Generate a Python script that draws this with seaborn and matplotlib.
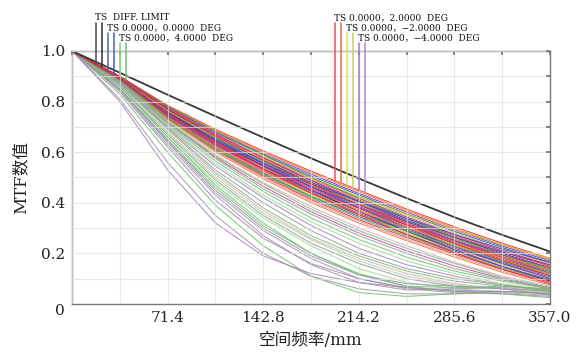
import numpy as np
import pandas as pd
import matplotlib
matplotlib.use("Agg")
import matplotlib.pyplot as plt
import seaborn as sns

# spatial frequency samples (lp/mm) and the diffraction limit
freq = [0, 35.7, 71.4, 107.1, 142.8, 178.5, 214.2, 249.9, 285.6, 321.3, 357.0]
diff_limit = [1.0, 0.914, 0.827, 0.742, 0.658, 0.576, 0.496, 0.418, 0.343, 0.273, 0.207]

# MTF curves, grouped by line colour
red_fields = [
    [1, .900, .785, .690, .605, .525, .450, .375, .305, .240, .180],
    [1, .896, .769, .663, .572, .488, .411, .338, .269, .206, .149],
    [1, .892, .755, .641, .545, .456, .379, .306, .239, .177, .122],
    [1, .887, .736, .609, .506, .413, .333, .263, .197, .137, .086],
    [1, .893, .755, .636, .534, .438, .353, .275, .203, .137, .080],
    [1, .897, .771, .663, .567, .475, .392, .313, .239, .171, .112],
]
orange_fields = [
    [1, .899, .782, .686, .600, .519, .444, .369, .299, .234, .175],
    [1, .891, .752, .636, .539, .450, .372, .300, .233, .171, .117],
    [1, .885, .730, .600, .495, .400, .320, .250, .185, .125, .075],
    [1, .887, .738, .618, .523, .438, .366, .300, .239, .183, .133],
]
purple_fields = [
    [1, .899, .780, .681, .594, .513, .437, .363, .293, .229, .170],
    [1, .893, .758, .645, .550, .463, .385, .313, .245, .183, .128],
    [1, .888, .741, .618, .517, .425, .346, .275, .209, .148, .096],
    [1, .890, .749, .636, .545, .463, .392, .325, .263, .206, .154],
]
blue_fields = [
    [1, .898, .777, .677, .589, .506, .431, .356, .287, .223, .164],
    [1, .890, .749, .632, .534, .444, .366, .294, .227, .165, .112],
    [1, .896, .766, .654, .556, .463, .379, .300, .227, .160, .101],
    [1, .891, .755, .645, .556, .475, .405, .338, .275, .217, .164],
]
olive_fields = [
    [1, .897, .774, .672, .583, .500, .424, .350, .281, .217, .159],
    [1, .889, .744, .623, .523, .431, .353, .281, .215, .154, .101],
    [1, .893, .763, .659, .572, .494, .424, .356, .293, .234, .180],
]
magenta_fields = [
    [1, .896, .771, .668, .578, .494, .418, .344, .275, .211, .154],
    [1, .890, .747, .627, .528, .438, .359, .288, .221, .160, .107],
    [1, .899, .777, .672, .578, .488, .405, .325, .251, .183, .122],
    [1, .888, .744, .627, .534, .450, .379, .313, .251, .194, .143],
]
navy_fields = [
    [1, .895, .766, .659, .567, .481, .405, .331, .263, .200, .143],
    [1, .894, .760, .645, .545, .450, .366, .288, .215, .148, .091],
]
green_fields = [
    [1, .894, .763, .654, .561, .475, .398, .325, .257, .194, .138],
    [1, .887, .738, .614, .512, .419, .340, .269, .203, .142, .091],
    [1, .900, .782, .681, .589, .500, .418, .338, .263, .194, .133],
    [1, .885, .733, .609, .512, .425, .353, .288, .227, .171, .122],
]
brown_fields = [
    [1, .893, .760, .650, .556, .469, .392, .319, .251, .188, .133],
]
pink_fields = [
    [1, .886, .733, .605, .501, .406, .327, .256, .191, .131, .080],
]

# the lower, poorer fields
green_low = [
    [1, .83, .60, .39, .23, .11, .045, .030, .040, .050, .040],
    [1, .85, .65, .46, .31, .20, .12, .070, .050, .040, .025],
    [1, .87, .69, .52, .38, .27, .19, .130, .090, .070, .060],
    [1, .88, .71, .565, .445, .34, .255, .185, .130, .090, .060],
    [1, .882, .72, .585, .475, .375, .29, .220, .160, .105, .065],
    [1, .86, .66, .47, .32, .20, .115, .070, .065, .070, .055],
]
lightgreen_low = [
    [1, .86, .66, .48, .34, .23, .14, .085, .060, .050, .035],
    [1, .875, .705, .555, .43, .325, .24, .170, .120, .080, .055],
    [1, .865, .675, .50, .36, .255, .17, .110, .075, .060, .045],
]
gray_low = [
    [1, .81, .56, .35, .20, .11, .06, .040, .040, .045, .035],
    [1, .85, .64, .44, .29, .18, .10, .060, .045, .040, .030],
    [1, .86, .67, .49, .35, .24, .16, .100, .070, .060, .050],
    [1, .87, .695, .53, .40, .29, .20, .140, .100, .075, .055],
    [1, .88, .715, .575, .455, .355, .27, .200, .140, .095, .065],
    [1, .845, .63, .43, .27, .155, .085, .055, .060, .065, .050],
]
lilac_low = [
    [1, .80, .53, .32, .19, .12, .085, .065, .055, .048, .042],
    [1, .84, .62, .41, .26, .16, .10, .065, .050, .050, .045],
    [1, .875, .70, .545, .42, .31, .22, .155, .110, .075, .050],
    [1, .85, .645, .45, .30, .19, .115, .080, .070, .060, .035],
]
pink_low = [
    [1, .865, .68, .51, .37, .26, .18, .120, .080, .060, .045],
    [1, .883, .725, .59, .48, .385, .30, .230, .165, .110, .070],
]
magenta_low = [
    [1, .88, .72, .58, .465, .365, .28, .210, .150, .100, .060],
]

palette = {
    "green_low": "#72c272", "lightgreen_low": "#9fdc95", "gray_low": "#9c9c9c",
    "lilac_low": "#a985bd", "pink_low": "#e7a3c6", "magenta_low": "#c2549f",
    "red": "#e3302f", "orange": "#f07b2a", "purple": "#7a3ca6", "blue": "#3b52c2",
    "olive": "#c7c23c", "magenta": "#c42f8e", "navy": "#2c3190", "green": "#4aae4f",
    "brown": "#a0522d", "pink": "#f08fb2",
}

lower_groups = [
    ("green_low", green_low), ("gray_low", gray_low), ("lilac_low", lilac_low),
    ("lightgreen_low", lightgreen_low), ("pink_low", pink_low), ("magenta_low", magenta_low),
]
upper_groups = [
    ("red", red_fields), ("blue", blue_fields), ("olive", olive_fields),
    ("purple", purple_fields), ("orange", orange_fields), ("green", green_fields),
    ("magenta", magenta_fields), ("navy", navy_fields), ("brown", brown_fields),
    ("pink", pink_fields),
]


def round_robin(groups):
    # mix the colours so no single group ends up on top
    out = []
    depth = max(len(c) for _, c in groups)
    for k in range(depth):
        for name, curves in groups:
            if k < len(curves):
                out.append((f"{name}_{k}", palette[name], curves[k]))
    return out


rows = []
curve_colors = {}
for cid, col, vals in round_robin(lower_groups) + round_robin(upper_groups):
    curve_colors[cid] = col
    for f, v in zip(freq, vals):
        rows.append({"curve": cid, "freq": f, "mtf": v})
df = pd.DataFrame(rows)

# legend entries: label and the colours of its two lines
legend_left = [
    ("TS  DIFF. LIMIT", ["#4a4a4a", "#2e2e2e"]),
    ("TS 0.0000，0.0000  DEG", ["#5464b4", "#4a5cc0"]),
    ("TS 0.0000，4.0000  DEG", ["#86c986", "#74bd74"]),
]
legend_right = [
    ("TS 0.0000，2.0000  DEG", ["#e4546a", "#e46a52"]),
    ("TS 0.0000，\u22122.0000  DEG", ["#dcdc66", "#c8d256"]),
    ("TS 0.0000，\u22124.0000  DEG", ["#9a78b6", "#b486c4"]),
]

sns.set_theme(style="white")
plt.rcParams["font.family"] = ["DejaVu Serif", "Noto Sans CJK SC"]

fig = plt.figure(figsize=(5.79, 3.6), dpi=100)
ax = fig.add_axes([0.1244, 0.1556, 0.8256, 0.7028])

sns.lineplot(data=df, x="freq", y="mtf", hue="curve", palette=curve_colors,
             estimator=None, sort=False, legend=False, lw=0.75, alpha=0.9, ax=ax)
sns.lineplot(x=freq, y=diff_limit, color="#383838", lw=1.3, ax=ax)

ax.set_xlim(0, 357)
ax.set_ylim(0, 1.0)

xt = np.arange(11) * 35.7
ax.set_xticks(xt, ["" if (i % 2 or i == 0) else f"{v:.1f}" for i, v in enumerate(xt)])
yt = np.arange(11) * 0.1
ylabels = []
for i, v in enumerate(yt):
    if i == 0:
        ylabels.append("0")
    elif i % 2 == 0:
        ylabels.append(f"{v:.1f}")
    else:
        ylabels.append("")
ax.set_yticks(yt, ylabels)
ax.get_yticklabels()[0].set_va("top")

ax.grid(True, color="#e0e0e0", lw=0.8, alpha=0.7)
ax.set_axisbelow(False)
ax.tick_params(direction="in", length=3, top=True, right=True, colors="#777777",
               labelcolor="#222222", labelsize=11, pad=5)
for s in ax.spines.values():
    s.set_color("#7a7a7a")
    s.set_linewidth(1.0)

ax.set_xlabel("空间频率/mm", fontsize=12, color="#222222", labelpad=5)
ax.set_ylabel("MTF数值", fontsize=12, color="#222222", labelpad=8)

# Zemax-style legend: paired vertical lines dropping to the top field curve
top_curve = red_fields[0]
for group, x0 in ((legend_left, 17.9), (legend_right, 196.4)):
    for j, (label, cols) in enumerate(group):
        xa = x0 + j * 9.0
        ytop = 1.112 - j * 0.04
        for m, c in enumerate(cols):
            xl = xa + m * 4.5
            ybot = float(np.interp(xl, freq, top_curve))
            ax.plot([xl, xl], [ybot, ytop], color=c, lw=1.1, clip_on=False, zorder=4)
        ax.text(xa - 0.5, ytop + 0.004, label, fontsize=6.5, color="#111111",
                ha="left", va="bottom", clip_on=False)

fig.savefig("out.png", dpi=100)
